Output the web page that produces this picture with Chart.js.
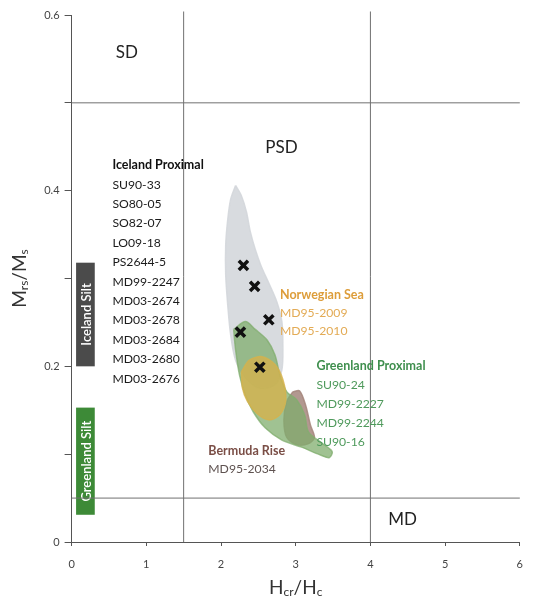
<!DOCTYPE html>
<html>
<head>
<meta charset="utf-8">
<script src="https://cdn.jsdelivr.net/npm/chart.js@4/dist/chart.umd.min.js"></script>
<style>
  html, body { margin: 0; padding: 0; background: #ffffff; }
  canvas { display: block; }
</style>
</head>
<body>
<canvas id="dayPlot" width="535" height="601"></canvas>
<script>
// Day plot: Mrs/Ms against Hcr/Hc with domain-state boundaries
const hcBoundaries = [1.5, 4];          // SD|PSD and PSD|MD on Hcr/Hc
const mBoundaries = [0.5, 0.05];        // SD|PSD and PSD|MD on Mrs/Ms
const domainNames = ['SD', 'PSD', 'MD'];
const domainAnchorX = [0.74, 2.81, 4.43];
const domainAnchorY = [0.557, 0.449, 0.026];

// Mean values of silt samples (crosses)
const meanHc = [2.30, 2.45, 2.64, 2.26, 2.52];
const meanM  = [0.315, 0.291, 0.253, 0.239, 0.199];

// Envelopes of the source-area samples (Hcr/Hc, Mrs/Ms)
const icelandHc = [2.195, 2.274, 2.340, 2.393, 2.459, 2.538, 2.644, 2.749, 2.815, 2.828, 2.815, 2.723, 2.512, 2.327, 2.195, 2.129, 2.090, 2.063, 2.063, 2.090, 2.129];
const icelandM  = [0.406, 0.394, 0.376, 0.353, 0.333, 0.314, 0.294, 0.273, 0.251, 0.224, 0.196, 0.179, 0.175, 0.187, 0.207, 0.236, 0.270, 0.304, 0.338, 0.367, 0.390];

const greenlandHc = [2.169, 2.195, 2.248, 2.327, 2.433, 2.591, 2.815, 3.079, 3.303, 3.449, 3.488, 3.343, 3.172, 3.119, 3.013, 2.881, 2.789, 2.723, 2.617, 2.459, 2.327];
const greenlandM  = [0.242, 0.219, 0.190, 0.167, 0.148, 0.130, 0.116, 0.108, 0.100, 0.096, 0.103, 0.113, 0.125, 0.145, 0.162, 0.171, 0.190, 0.213, 0.230, 0.242, 0.251];

const norwegianHc = [2.274, 2.380, 2.551, 2.723, 2.828, 2.868, 2.789, 2.644, 2.485, 2.354, 2.288];
const norwegianM  = [0.194, 0.207, 0.211, 0.202, 0.185, 0.162, 0.145, 0.139, 0.146, 0.160, 0.175];

const bermudaHc = [2.960, 3.053, 3.132, 3.198, 3.251, 3.172, 3.013, 2.881, 2.842, 2.881];
const bermudaM  = [0.171, 0.172, 0.156, 0.133, 0.119, 0.112, 0.111, 0.119, 0.139, 0.160];

// Reference silt ranges on the Mrs/Ms axis
const siltNames = ['Iceland Silt', 'Greenland Silt'];
const siltLow   = [0.200, 0.031];
const siltHigh  = [0.318, 0.153];

// Core lists for each source area
const icelandCores   = ['SU90-33', 'SO80-05', 'SO82-07', 'LO09-18', 'PS2644-5', 'MD99-2247', 'MD03-2674', 'MD03-2678', 'MD03-2684', 'MD03-2680', 'MD03-2676'];
const norwegianCores = ['MD95-2009', 'MD95-2010'];
const greenlandCores = ['SU90-24', 'MD99-2227', 'MD99-2244', 'SU90-16'];
const bermudaCores   = ['MD95-2034'];

const FONT = "Lato, 'Open Sans', sans-serif";

function toPoints(xs, ys) {
  const pts = xs.map((x, i) => ({ x: x, y: ys[i] }));
  pts.push({ x: xs[0], y: ys[0] });
  return pts;
}

function envelope(label, xs, ys, fill, order) {
  return {
    label: label,
    data: toPoints(xs, ys),
    showLine: true,
    fill: 'shape',
    backgroundColor: fill,
    borderColor: fill,
    borderWidth: 1.5,
    tension: 0.3,
    pointRadius: 0,
    order: order
  };
}

function boundaryLines() {
  const sets = [];
  hcBoundaries.forEach(v => sets.push({
    data: [{ x: v, y: 0 }, { x: v, y: 0.604 }],
    showLine: true, borderColor: '#707070', borderWidth: 1, pointRadius: 0, clip: false, order: 10
  }));
  mBoundaries.forEach(v => sets.push({
    data: [{ x: 0, y: v }, { x: 6, y: v }],
    showLine: true, borderColor: '#707070', borderWidth: 1, pointRadius: 0, clip: false, order: 10
  }));
  return sets;
}

// Text blocks, axis titles and silt ranges
const annotations = {
  id: 'annotations',
  beforeDatasetsDraw(chart) {
    const { ctx, scales: { x, y } } = chart;
    ctx.save();
    const colors = ['#4b4b4b', '#3d8a37'];
    siltNames.forEach((name, i) => {
      const x0 = x.getPixelForValue(0.06), x1 = x.getPixelForValue(0.31);
      const yTop = y.getPixelForValue(siltHigh[i]), yBot = y.getPixelForValue(siltLow[i]);
      ctx.fillStyle = colors[i];
      ctx.fillRect(x0, yTop, x1 - x0, yBot - yTop);
      ctx.save();
      ctx.translate((x0 + x1) / 2, (yTop + yBot) / 2);
      ctx.rotate(-Math.PI / 2);
      ctx.fillStyle = '#ffffff';
      ctx.font = "600 13px " + FONT;
      ctx.textAlign = 'center';
      ctx.textBaseline = 'middle';
      ctx.fillText(name, 0, 1);
      ctx.restore();
    });
    ctx.restore();
  },
  afterDatasetsDraw(chart) {
    const { ctx, scales: { x, y }, chartArea } = chart;
    ctx.save();
    ctx.textBaseline = 'middle';

    // domain-state labels
    ctx.font = "17px " + FONT;
    ctx.fillStyle = '#222222';
    ctx.textAlign = 'center';
    domainNames.forEach((n, i) => {
      ctx.fillText(n, x.getPixelForValue(domainAnchorX[i]), y.getPixelForValue(domainAnchorY[i]));
    });

    // source-area captions
    ctx.textAlign = 'left';
    function block(title, lines, hc, m, titleColor, lineColor, step) {
      const px = x.getPixelForValue(hc), py = y.getPixelForValue(m);
      ctx.font = "bold 12.5px " + FONT;
      ctx.fillStyle = titleColor;
      ctx.fillText(title, px, py);
      ctx.font = "12.2px " + FONT;
      ctx.fillStyle = lineColor;
      lines.forEach((l, i) => ctx.fillText(l, px, py + step * (i + 1)));
    }
    block('Iceland Proximal', icelandCores, 0.546, 0.429, '#111111', '#1a1a1a', 19.4);
    block('Norwegian Sea', norwegianCores, 2.789, 0.281, '#dd9d3a', '#e3ab55', 18);
    block('Greenland Proximal', greenlandCores, 3.277, 0.200, '#3f8f4e', '#4f9a5c', 19);
    block('Bermuda Rise', bermudaCores, 1.83, 0.104, '#7a4e46', '#5e5250', 18);

    // axis titles with subscripts
    function subTitle(parts) {
      let w = 0;
      parts.forEach(p => { ctx.font = (p.sub ? "12px " : "19px ") + FONT; w += ctx.measureText(p.t).width; });
      let cx = -w / 2;
      parts.forEach(p => {
        ctx.font = (p.sub ? "12px " : "19px ") + FONT;
        ctx.fillText(p.t, cx, p.sub ? 4 : 0);
        cx += ctx.measureText(p.t).width;
      });
    }
    ctx.fillStyle = '#333333';
    ctx.textAlign = 'left';
    ctx.save();
    ctx.translate((chartArea.left + chartArea.right) / 2, 588);
    subTitle([{ t: 'H' }, { t: 'cr', sub: true }, { t: '/H' }, { t: 'c', sub: true }]);
    ctx.restore();
    ctx.save();
    ctx.translate(20, (chartArea.top + chartArea.bottom) / 2);
    ctx.rotate(-Math.PI / 2);
    subTitle([{ t: 'M' }, { t: 'rs', sub: true }, { t: '/M' }, { t: 's', sub: true }]);
    ctx.restore();

    ctx.restore();
  }
};

new Chart(document.getElementById('dayPlot'), {
  type: 'scatter',
  data: {
    datasets: [
      {
        label: 'Silt means',
        data: meanHc.map((v, i) => ({ x: v, y: meanM[i] })),
        pointStyle: 'crossRot',
        pointRadius: 6.5,
        pointBorderWidth: 3.5,
        borderColor: '#111111',
        backgroundColor: '#111111',
        order: 0
      },
      envelope('Norwegian Sea', norwegianHc, norwegianM, 'rgba(214,178,76,0.78)', 1),
      envelope('Greenland Proximal', greenlandHc, greenlandM, 'rgba(128,174,110,0.75)', 2),
      envelope('Bermuda Rise', bermudaHc, bermudaM, 'rgba(165,134,124,0.85)', 3),
      envelope('Iceland Proximal', icelandHc, icelandM, 'rgba(212,215,219,0.9)', 4),
      ...boundaryLines()
    ]
  },
  options: {
    responsive: false,
    animation: false,
    layout: { autoPadding: false, padding: { top: 15, right: 8.6, left: 0, bottom: 0 } },
    plugins: { legend: { display: false }, tooltip: { enabled: false } },
    scales: {
      x: {
        type: 'linear', min: 0, max: 6,
        afterFit(s) { s.height = 59; },
        border: { display: true, color: '#555555', width: 1 },
        grid: { display: true, drawOnChartArea: false, tickLength: 4, color: '#555555' },
        ticks: { stepSize: 1, padding: 12, color: '#444444', font: { family: FONT, size: 11 } }
      },
      y: {
        type: 'linear', min: 0, max: 0.6,
        afterFit(s) { s.width = 71.6; },
        border: { display: true, color: '#555555', width: 1 },
        grid: { display: true, drawOnChartArea: false, tickLength: 7, color: '#555555' },
        ticks: {
          stepSize: 0.1, padding: 5, color: '#444444', font: { family: FONT, size: 11 },
          callback(v) {
            const k = Math.round(v * 10);
            return k % 2 === 0 ? (k === 0 ? '0' : (k / 10).toFixed(1)) : '';
          }
        }
      }
    }
  },
  plugins: [annotations]
});
</script>
</body>
</html>
